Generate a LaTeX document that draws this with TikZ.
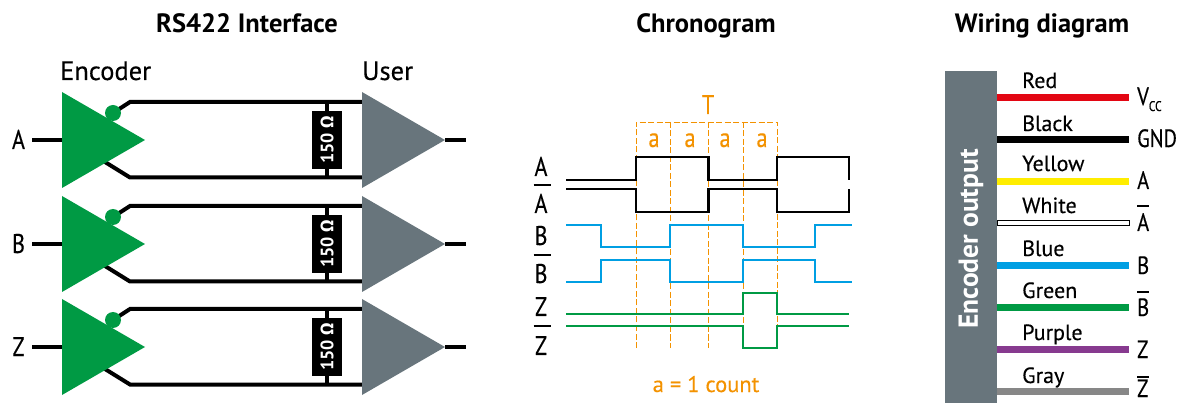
\documentclass[tikz,border=0pt]{standalone}
\usepackage{fontspec}
\usetikzlibrary{calc}
\setmainfont[FakeBold=0.35,BoldFont={PT Sans Bold},BoldFeatures={FakeBold=0}]{PT Sans}
\newfontfamily\omegafont{Fira Sans}
\newfontfamily\narrowfont[FakeBold=0.35,FakeStretch=0.82]{PT Sans}
\definecolor{encgreen}{HTML}{009A44}
\definecolor{slategray}{HTML}{68757C}
\definecolor{tick}{HTML}{F39200}
\definecolor{wblue}{HTML}{009FE3}
\definecolor{wred}{HTML}{E30613}
\definecolor{wyellow}{HTML}{FFED00}
\definecolor{wpurple}{HTML}{873A8F}
\definecolor{wgray}{HTML}{878787}
\tikzset{
  x=1pt,y=-1pt,
  lab/.style={font=\fontsize{27}{27}\selectfont\narrowfont,anchor=base,inner sep=0pt,text=black},
  labw/.style={font=\fontsize{26.5}{26.5}\selectfont,inner sep=0pt,anchor=base west},
  titlelab/.style={font=\fontsize{26.5}{26.5}\selectfont\bfseries,anchor=base,inner sep=0pt},
  bus/.style={line width=4pt,black},
  trace/.style={line width=2.4pt,line join=miter},
  guide/.style={tick,line width=0.85pt,dash pattern=on 6pt off 2.5pt},
  barline/.style={line width=2pt,black},
  wire/.style={line width=7pt},
  res/.style={fill=black,minimum width=30pt,minimum height=58pt,inner sep=0pt,text=white,font=\fontsize{18}{18}\selectfont\bfseries},
  ticklab/.style={lab,text=tick},
  colorlab/.style={font=\fontsize{22}{22}\selectfont,anchor=base west,inner sep=0pt},
  pinlab/.style={font=\fontsize{25}{25}\selectfont\narrowfont,anchor=base west,inner sep=0pt},
}
\begin{document}
\begin{tikzpicture}
\useasboundingbox (0,0) rectangle (1178,403);
% --- titles
\node[titlelab] (t1) at (247,33) {RS422 Interface};
\node[titlelab] (t2) at (706,33) {Chronogram};
\node[titlelab] (t3) at (1042,33) {Wiring diagram};
\node[labw] (enc) at (60,80) {Encoder};
\node[labw] (usr) at (362,80) {User};
% --- interface rows
\foreach \nm/\top in {A/92,B/196,Z/299}{
  \pgfmathsetmacro\mid{\top+48}
  \pgfmathsetmacro\bot{\top+96}
  \pgfmathsetmacro\wa{\top+10}
  \pgfmathsetmacro\wb{\top+85.5}
  \pgfmathsetmacro\ca{\top+21}
  \pgfmathsetmacro\cb{\top+70}
  \pgfmathsetmacro\bl{\top+57}
  \coordinate (in\nm) at (32,\mid);
  \coordinate (tl\nm) at (62,\top);
  \coordinate (ml\nm) at (62,\mid);
  \coordinate (bl\nm) at (62,\bot);
  \coordinate (tp\nm) at (145,\mid);
  \coordinate (ut\nm) at (362,\top);
  \coordinate (um\nm) at (362,\mid);
  \coordinate (ub\nm) at (362,\bot);
  \coordinate (up\nm) at (445,\mid);
  \coordinate (out\nm) at (466,\mid);
  \coordinate (jup\nm) at (130,\wa);
  \coordinate (jlo\nm) at (130,\wb);
  \coordinate (sup\nm) at (113,\ca);
  \coordinate (slo\nm) at (105,\cb);
  \coordinate (eup\nm) at (362,\wa);
  \coordinate (elo\nm) at (362,\wb);
  \coordinate (rt\nm) at (327,\wa);
  \coordinate (rb\nm) at (327,\wb);
  \node[lab] (lab\nm) at (18.5,\bl) {\nm};
  \draw[bus] (in\nm) -- (ml\nm);
  \draw[bus] (up\nm) -- (out\nm);
  \draw[bus] (sup\nm) -- (jup\nm) -- (eup\nm);
  \draw[bus] (slo\nm) -- (jlo\nm) -- (elo\nm);
  \draw[bus] (rt\nm) -- (rb\nm);
  \node[res] (r\nm) at ($(rt\nm)!0.5!(rb\nm)$) {\rotatebox{90}{150 {\omegafont Ω}}};
  \fill[encgreen] (tl\nm) -- (tp\nm) -- (bl\nm) -- cycle;
  \fill[encgreen] (sup\nm) circle (8);
  \fill[slategray] (ut\nm) -- (up\nm) -- (ub\nm) -- cycle;
}
% --- chronogram guides
\coordinate (g1t) at (636,122); \coordinate (g1b) at (636,348);
\coordinate (g2t) at (670,122); \coordinate (g2b) at (670,348);
\coordinate (g3t) at (708,122); \coordinate (g3b) at (708,348);
\coordinate (g4t) at (743,122); \coordinate (g4b) at (743,348);
\coordinate (g5t) at (777,122); \coordinate (g5b) at (777,348);
\draw[guide] (g1b) -- (g1t) -- (g5t) -- (g5b);
\draw[guide] (g2t) -- (g2b);
\draw[guide] (g3t) -- (g3b);
\draw[guide] (g4t) -- (g4b);
\node[ticklab] (T) at (708,114) {T};
\node[ticklab] (a1) at (654,147) {a};
\node[ticklab] (a2) at (690,147) {a};
\node[ticklab] (a3) at (725,147) {a};
\node[ticklab] (a4) at (762,147) {a};
\node[font=\fontsize{22.5}{22.5}\selectfont,text=tick,anchor=base,inner sep=0pt] (cnt) at (706,392) {a = 1 count};
% --- chronogram traces
\draw[trace,black] (566,180) -| (636,157) -| (708.5,180) -| (777,157) -| (849,180);
\draw[trace,black] (566,189) -| (636,212) -| (708.5,189) -| (777,212) -| (849,189);
\draw[trace,wblue] (566,225) -| (601,247) -| (670,225) -| (743,247) -| (815,225) -- (852,225);
\draw[trace,wblue] (566,282) -| (601,260) -| (670,282) -| (743,260) -| (815,282) -- (852,282);
\draw[trace,encgreen] (566,314) -| (743,293) -| (777,314) -- (849,314);
\draw[trace,encgreen] (566,326) -| (743,348) -| (777,326) -- (849,326);
% --- chronogram labels
\node[lab] (cA) at (541,176) {A};
\node[lab] (cAb) at (541,213) {A};
\node[lab] (cB) at (541,245) {B};
\node[lab] (cBb) at (541,283) {B};
\node[lab] (cZ) at (541,316) {Z};
\node[lab] (cZb) at (541,355) {Z};
\draw[barline] (533.5,185) -- (551,185);
\draw[barline] (533.5,255) -- (551,255);
\draw[barline] (533.5,326) -- (551,326);
% --- wiring
\node[fill=slategray,minimum width=52pt,minimum height=332pt,inner sep=0pt,anchor=north west] (blk) at (945,71) {};
\node[font=\fontsize{27.5}{27.5}\selectfont\bfseries,text=white,rotate=90,inner sep=0pt] (blktxt) at (971,239) {Encoder output};
\foreach \idx/\yy/\col/\nm/\ly in {1/97.5/wred/Red/88,2/139.5/black/Black/131,3/181.5/wyellow/Yellow/171,5/265.5/wblue/Blue/256,6/307.5/encgreen/Green/298,7/349.5/wpurple/Purple/340,8/391.5/wgray/Gray/383}{
  \coordinate (ws\idx) at (997,\yy);
  \coordinate (we\idx) at (1129,\yy);
  \draw[wire,\col] (ws\idx) -- (we\idx);
  \node[colorlab] (cl\idx) at (1022,\ly) {\nm};
}
\coordinate (ws4) at (997,223);
\coordinate (we4) at (1129,223);
\draw[line width=1pt,black,fill=white] (997,220.5) rectangle (1129,226);
\node[colorlab] (cl4) at (1022,213) {White};
\node[pinlab,anchor=base west] (pVcc) at (1137,105) {V\raisebox{-6pt}{\fontsize{14}{14}\selectfont\narrowfont CC}};
\node[pinlab] (pGND) at (1137,147) {GND};
\node[pinlab] (pA) at (1137,189) {A};
\node[pinlab] (pAb) at (1137,231) {A};
\node[pinlab] (pB) at (1137,274) {B};
\node[pinlab] (pBb) at (1137,316) {B};
\node[pinlab] (pZ) at (1137,358) {Z};
\node[pinlab] (pZb) at (1137,397) {Z};
\draw[barline] (1137,206) -- (1149,206);
\draw[barline] (1137,292) -- (1149,292);
\draw[barline] (1137,377) -- (1149,377);
\end{tikzpicture}
\end{document}
